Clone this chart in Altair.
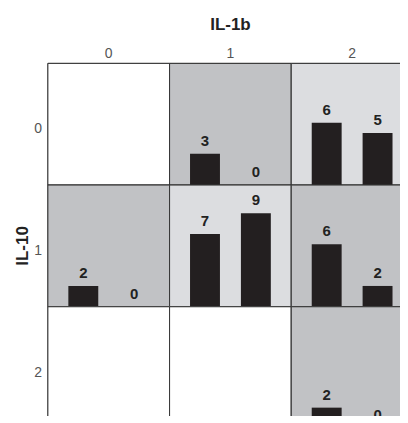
import altair as alt
import pandas as pd

# Grid cells: IL-10 (rows) x IL-1b (columns)
il10_vals = [0, 0, 0, 1, 1, 1, 2, 2, 2]
il1b_vals = [0, 1, 2, 0, 1, 2, 0, 1, 2]
cell_shade = ["white", "dark", "light", "dark", "light", "dark", "white", "white", "dark"]
bar1_vals = [None, 3, 6, 2, 7, 6, None, None, 2]
bar2_vals = [None, 0, 5, 0, 9, 2, None, None, 0]
bar_names = ["a", "b"]

rows = []
for r, c, s, v1, v2 in zip(il10_vals, il1b_vals, cell_shade, bar1_vals, bar2_vals):
    for name, v in zip(bar_names, [v1, v2]):
        rows.append({"il10": r, "il1b": c, "shade": s, "bar": name, "value": v})
df = pd.DataFrame(rows)

FONT = "Liberation Sans"

bg = alt.Chart().mark_rect(stroke="#333333", strokeWidth=1).encode(
    x=alt.value(0),
    x2=alt.value("width"),
    y=alt.value(0),
    y2=alt.value("height"),
    color=alt.Color(
        "shade:N",
        scale=alt.Scale(domain=["white", "dark", "light"],
                        range=["#ffffff", "#c1c2c5", "#dcdde0"]),
        legend=None,
    ),
)

xenc = alt.X("bar:N", scale=alt.Scale(domain=bar_names, paddingInner=0.412, paddingOuter=0.402), axis=None)
yenc = alt.Y("value:Q", scale=alt.Scale(domain=[0, 11.7], nice=False, zero=True), axis=None)

bars = alt.Chart().transform_filter("isValid(datum.value)").mark_bar(color="#231f20").encode(
    x=xenc, y=yenc
)

labels = alt.Chart().transform_filter("isValid(datum.value)").mark_text(
    baseline="bottom", dy=-5, fontSize=15, fontWeight="bold", font=FONT, color="#222222"
).encode(x=xenc, y=yenc, text=alt.Text("value:Q", format="d"))

layer = alt.layer(bg, bars, labels, data=df).properties(width=122, height=122)

chart = layer.facet(
    row=alt.Row(
        "il10:O",
        title="IL-10",
        header=alt.Header(
            labelAngle=0, labelPadding=-2,
            labelBaseline="line-top", labelLineHeight=10,
            labelFont=FONT, labelFontSize=14, labelColor="#555555",
            titleFont=FONT, titleFontSize=17, titleFontWeight="bold", titleColor="#222222",
            titleAngle=-90, titlePadding=-25,
        ),
    ),
    column=alt.Column(
        "il1b:O",
        title="IL-1b",
        header=alt.Header(
            labelPadding=2, labelFont=FONT, labelFontSize=14, labelColor="#555555",
            titleFont=FONT, titleFontSize=17, titleFontWeight="bold", titleColor="#222222",
            titlePadding=3,
        ),
    ),
    spacing=0,
    bounds="flush",
).properties(
    padding={"left": 6, "top": 8, "right": -14, "bottom": -14}
).configure_view(strokeWidth=0).configure(background="#ffffff")

chart.save("out.html", embed_options={"renderer": "svg", "actions": False})
